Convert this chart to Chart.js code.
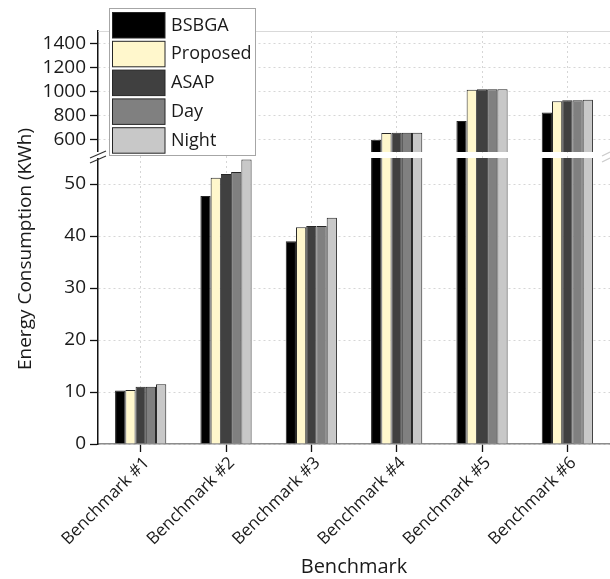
<!DOCTYPE html>
<html>
<head>
<meta charset="utf-8">
<script src="https://cdn.jsdelivr.net/npm/chart.js@4/dist/chart.umd.min.js"></script>
<style>
  html, body { margin: 0; padding: 0; background: #ffffff; }
  #wrap { width: 610px; height: 579px; position: relative; }
</style>
</head>
<body>
<div id="wrap"><canvas id="chart" width="610" height="579"></canvas></div>
<script>
// Benchmarks on the x axis
const categories = ['Benchmark #1', 'Benchmark #2', 'Benchmark #3', 'Benchmark #4', 'Benchmark #5', 'Benchmark #6'];

// Energy consumption (KWh) per scheduling approach
const seriesNames = ['BSBGA', 'Proposed', 'ASAP', 'Day', 'Night'];
const bsbga    = [10.3, 47.7, 39.0, 602, 757, 826];
const proposed = [10.4, 51.2, 41.7, 658, 1014, 920];
const asap     = [11.0, 51.9, 41.9, 660, 1019, 928];
const day      = [11.0, 52.3, 41.9, 660, 1019, 928];
const night    = [11.5, 54.7, 43.5, 660, 1019, 931];
const seriesValues = [bsbga, proposed, asap, day, night];
const seriesColors = ['#000000', '#FFF7CC', '#404040', '#808080', '#C8C8C8'];

// Broken y axis: a lower and an upper segment
const lowerTicks = [0, 10, 20, 30, 40, 50];
const upperTicks = [600, 800, 1000, 1200, 1400];
const lowerRange = [0, 55];
const upperRange = [500, 1500];

// Pixel heights of the two segments and the gap between them
const upperPx = 121, gapPx = 6, lowerPx = 286;
const upperMin = upperRange[0] - gapPx * (upperRange[1] - upperRange[0]) / upperPx;

const FONT = "'Open Sans', 'DejaVu Sans', sans-serif";
const TEXT = '#1a1a1a';

function makeDatasets(axisId) {
  return seriesNames.map((name, i) => ({
    label: name,
    data: seriesValues[i],
    yAxisID: axisId,
    stack: 's' + i,
    backgroundColor: seriesColors[i],
    borderColor: '#262626',
    borderWidth: 1,
    categoryPercentage: 0.6,
    barPercentage: 1.0
  }));
}

const yCommon = {
  position: 'left',
  stack: 'energy',
  stacked: false,
  afterFit: (s) => { s.width = 98; },
  border: { display: true, color: '#111111', width: 1.5, dash: [2, 3] },
  grid: { color: '#d6d6d6', lineWidth: 1, tickLength: 8, tickColor: '#111111', tickWidth: 1.3 },
  ticks: {
    color: TEXT, font: { family: FONT, size: 19 }, padding: 4, autoSkip: false,
    callback: (v) => String(v)
  }
};

// Clips each dataset to its own segment, then draws the break, the frame line,
// the y title and the legend.
const brokenAxis = {
  id: 'brokenAxis',
  beforeDatasetDraw(chart, args) {
    const ys = chart.scales[args.meta.yAxisID];
    const a = chart.chartArea;
    const top = ys.top;
    const bottom = ys.id === 'yUpper' ? ys.getPixelForValue(upperRange[0]) : ys.bottom;
    const ctx = chart.ctx;
    ctx.save();
    ctx.beginPath();
    ctx.rect(a.left, top, a.right - a.left, bottom - top);
    ctx.clip();
  },
  afterDatasetDraw(chart) {
    chart.ctx.restore();
  },
  afterDraw(chart) {
    const ctx = chart.ctx;
    const a = chart.chartArea;
    const up = chart.scales.yUpper;
    const low = chart.scales.yLower;
    const gTop = up.getPixelForValue(upperRange[0]);
    const gBot = low.top;

    ctx.save();
    // light frame line along the top of the plot
    ctx.strokeStyle = '#d9d9d9';
    ctx.lineWidth = 1;
    ctx.beginPath();
    ctx.moveTo(a.left, a.top + 0.5);
    ctx.lineTo(a.right, a.top + 0.5);
    ctx.stroke();

    // break in the y axis line
    ctx.fillStyle = '#ffffff';
    ctx.fillRect(a.left - 4, gTop, 8, gBot - gTop);
    ctx.strokeStyle = '#333333';
    ctx.lineWidth = 1.2;
    ctx.beginPath();
    ctx.moveTo(a.left - 8, gTop + 6); ctx.lineTo(a.left + 8, gTop - 1);
    ctx.moveTo(a.left - 8, gBot + 5); ctx.lineTo(a.left + 8, gBot - 2);
    ctx.stroke();
    ctx.strokeStyle = '#cccccc';
    ctx.beginPath();
    ctx.moveTo(a.right - 8, gTop + 4); ctx.lineTo(a.right, gTop);
    ctx.moveTo(a.right - 8, gBot + 4); ctx.lineTo(a.right, gBot);
    ctx.stroke();

    // y axis title
    ctx.fillStyle = TEXT;
    ctx.font = '19px ' + FONT;
    ctx.textAlign = 'center';
    ctx.textBaseline = 'middle';
    ctx.translate(26, 249);
    ctx.rotate(-Math.PI / 2);
    ctx.fillText('Energy Consumption (KWh)', 0, 0);
    ctx.restore();

    // legend box
    ctx.save();
    ctx.fillStyle = '#ffffff';
    ctx.fillRect(109.5, 8.5, 146, 147);
    ctx.strokeStyle = '#a6a6a6';
    ctx.lineWidth = 1;
    ctx.strokeRect(109.5, 8.5, 146, 147);
    ctx.font = '18px ' + FONT;
    ctx.textAlign = 'left';
    ctx.textBaseline = 'middle';
    seriesNames.forEach((name, i) => {
      const y = 12.5 + i * 28.8;
      ctx.fillStyle = seriesColors[i];
      ctx.fillRect(112.5, y, 52.5, 25.5);
      ctx.strokeStyle = '#262626';
      ctx.strokeRect(112.5, y, 52.5, 25.5);
      ctx.fillStyle = TEXT;
      ctx.fillText(name, 171, y + 13);
    });
    ctx.restore();
  }
};

new Chart(document.getElementById('chart'), {
  type: 'bar',
  data: {
    labels: categories,
    datasets: [...makeDatasets('yLower'), ...makeDatasets('yUpper')]
  },
  options: {
    responsive: false,
    animation: false,
    devicePixelRatio: 1,
    layout: { padding: { top: 31, right: 0, bottom: 0, left: 0 } },
    plugins: { legend: { display: false }, tooltip: { enabled: false } },
    scales: {
      x: {
        afterFit: (s) => { s.height = 135; },
        border: { display: true, color: '#8c8c8c', width: 1.5, dash: [2, 3] },
        grid: { offset: false, color: '#d6d6d6', tickLength: 8, tickColor: '#111111', tickWidth: 1.3 },
        ticks: { color: TEXT, font: { family: FONT, size: 17 }, minRotation: 45, maxRotation: 45, padding: 1, labelOffset: 6, autoSkip: false },
        title: { display: true, text: 'Benchmark', color: TEXT, font: { family: FONT, size: 20 }, padding: { top: 0, bottom: 0 } }
      },
      yLower: Object.assign({}, yCommon, {
        min: lowerRange[0],
        max: lowerRange[1],
        stackWeight: lowerPx,
        afterBuildTicks: (s) => { s.ticks = lowerTicks.map(v => ({ value: v })); }
      }),
      yUpper: Object.assign({}, yCommon, {
        min: upperMin,
        max: upperRange[1],
        stackWeight: upperPx + gapPx,
        afterBuildTicks: (s) => { s.ticks = upperTicks.map(v => ({ value: v })); }
      })
    }
  },
  plugins: [brokenAxis]
});
</script>
</body>
</html>
